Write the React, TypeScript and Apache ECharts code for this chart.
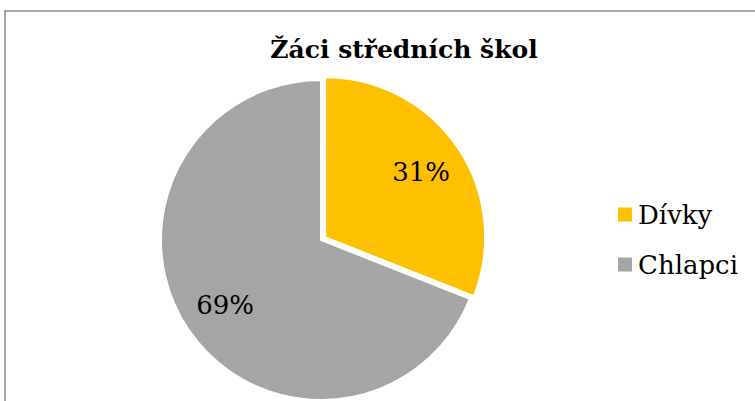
import React, { useEffect, useRef } from "react";
import * as echarts from "echarts";

const titleText = "Žáci středních škol";
const categories = ["Dívky", "Chlapci"];
const percentages = [31, 69];
const colors = ["#FFC000", "#A5A5A5"];

const FONT = "DejaVu Serif";

export default function App() {
  const ref = useRef<HTMLDivElement>(null);
  useEffect(() => {
    if (!ref.current) return;
    const chart = echarts.init(ref.current, null, { renderer: "svg" });
    const pieData = categories.map((name, i) => ({
      name,
      value: percentages[i],
      selected: i === 0,
      itemStyle: { color: colors[i] },
    }));
    chart.setOption({
      animation: false,
      backgroundColor: "#ffffff",
      title: {
        text: titleText,
        left: 404,
        textAlign: "center",
        top: 37,
        padding: 0,
        textStyle: {
          fontFamily: FONT,
          fontWeight: "bold",
          fontSize: 25,
          color: "#000",
        },
      },
      legend: {
        orient: "vertical",
        left: 616,
        top: 200,
        padding: 0,
        itemWidth: 16,
        itemHeight: 16,
        itemGap: 21,
        icon: "rect",
        selectedMode: false,
        data: categories.map((name, i) => ({ name, itemStyle: { color: colors[i] } })),
        textStyle: {
          fontFamily: FONT,
          fontSize: 26,
          lineHeight: 29,
          color: "#000",
        },
      },
      graphic: [
        {
          type: "rect",
          shape: { x: 5, y: 11, width: 900, height: 600 },
          style: { fill: "none", stroke: "#8c8c8c", lineWidth: 1.5 },
          silent: true,
          z: 100,
        },
      ],
      series: [
        {
          type: "pie",
          center: [321, 240],
          radius: 160,
          startAngle: 90,
          clockwise: true,
          selectedMode: "single",
          selectedOffset: 5,
          silent: true,
          itemStyle: { borderColor: "#ffffff", borderWidth: 2 },
          label: { show: false },
          labelLine: { show: false },
          emphasis: { disabled: true },
          data: pieData,
        },
        {
          type: "pie",
          center: [321, 240],
          radius: [66, 160],
          startAngle: 90,
          clockwise: true,
          selectedMode: "single",
          selectedOffset: 5,
          silent: true,
          itemStyle: { color: "rgba(0,0,0,0)", borderWidth: 0 },
          label: {
            show: true,
            position: "inside",
            formatter: (p: any) => `${p.value}%`,
            fontFamily: FONT,
            fontSize: 26,
            color: "#000",
          },
          labelLine: { show: false },
          emphasis: { disabled: true },
          data: categories.map((name, i) => ({
            name,
            value: percentages[i],
            selected: i === 0,
          })),
        },
      ],
    });
    return () => chart.dispose();
  }, []);
  return (
    <div
      ref={ref}
      style={{ position: "absolute", left: 0, top: 0, width: 755, height: 401 }}
    />
  );
}
